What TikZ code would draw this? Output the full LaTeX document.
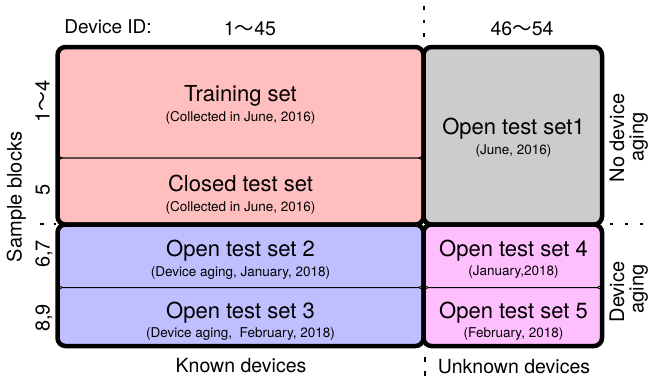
\documentclass[tikz,border=0pt]{standalone}
\usepackage{fontspec}
\setmainfont{TeX Gyre Heros}
\newfontfamily\cjkfont{Noto Sans CJK JP}
\newcommand{\wavesym}{{\cjkfont ～}}
\definecolor{pinkc}{RGB}{255,191,191}
\definecolor{bluec}{RGB}{191,191,255}
\definecolor{greyc}{RGB}{204,204,204}
\definecolor{magc}{RGB}{255,191,255}
\begin{document}
\begin{tikzpicture}[x=1pt,y=-1pt,
  cell/.style={draw=black, line width=1pt, rounded corners=5pt, inner sep=0pt, outer sep=0pt},
  group/.style={draw=black, line width=4.5pt, rounded corners=8pt},
  title/.style={font=\fontsize{22}{26}\selectfont, anchor=base, inner sep=0pt},
  subt/.style={font=\fontsize{13.5}{16}\selectfont, anchor=base, inner sep=0pt},
  lab/.style={font=\fontsize{19.5}{23}\selectfont, anchor=base, inner sep=0pt},
  rlab/.style={font=\fontsize{20}{23}\selectfont, anchor=base, inner sep=0pt, rotate=90},
  dotline/.style={line width=2.5pt, dash pattern=on 3.5pt off 10pt}]
\useasboundingbox (0,0) rectangle (652,381);

% cells
\node[cell, fill=pinkc, minimum width=366pt, minimum height=111pt] (train) at (240.5,102.5) {};
\node[cell, fill=pinkc, minimum width=366pt, minimum height=66.5pt] (closed) at (240.5,191.25) {};
\node[cell, fill=bluec, minimum width=366pt, minimum height=63pt] (op2) at (240.5,256) {};
\node[cell, fill=bluec, minimum width=366pt, minimum height=58.5pt] (op3) at (240.5,316.75) {};
\node[cell, fill=greyc, minimum width=178.5pt, minimum height=177.5pt] (op1) at (512.75,135.75) {};
\node[cell, fill=magc, minimum width=178.5pt, minimum height=63pt] (op4) at (512.75,256) {};
\node[cell, fill=magc, minimum width=178.5pt, minimum height=58.5pt] (op5) at (512.75,316.75) {};

% group borders
\draw[group] (train.north west) rectangle (closed.south east);
\draw[group] (op2.north west) rectangle (op3.south east);
\draw[group] (op1.north west) rectangle (op1.south east);
\draw[group] (op4.north west) rectangle (op5.south east);

% cell texts
\node[title] (t1) at (240.5,101) {Training set};
\node[subt] (s1) at (240.5,121.5) {(Collected in June, 2016)};
\node[title] (t2) at (240.5,191.5) {Closed test set};
\node[subt] (s2) at (240.5,211) {(Collected in June, 2016)};
\node[title] (t3) at (240.5,256) {Open test set 2};
\node[subt] (s3) at (240.5,276) {(Device aging, January, 2018)};
\node[title] (t4) at (240.5,318) {Open test set 3};
\node[subt] (s4) at (240.5,337.5) {(Device aging, \ February, 2018)};
\node[title] (t5) at (513.5,134.5) {Open test set1};
\node[subt] (s5) at (513.5,154) {(June, 2016)};
\node[title] (t6) at (513.5,256.5) {Open test set 4};
\node[subt] (s6) at (513.5,275.5) {(January,2018)};
\node[title] (t7) at (513.5,318) {Open test set 5};
\node[subt] (s7) at (513.5,337.5) {(February, 2018)};

% top labels
\node[lab, font=\fontsize{19}{23}\selectfont] (devid) at (108,33.5) {Device ID:};
\node[lab] (r1) at (250,35) {1\wavesym45};
\node[lab] (r2) at (522,35) {46\wavesym54};

% bottom labels
\node[lab] (known) at (241,372) {Known devices};
\node[lab] (unknown) at (514,373) {Unknown devices};

% left labels
\node[rlab] (sb) at (21.7,197) {Sample blocks};
\node[rlab] (b1) at (49.5,101.5) {1\wavesym4};
\node[rlab] (b2) at (49.5,190) {5};
\node[rlab] (b3) at (49.5,254) {6,7};
\node[rlab] (b4) at (49.5,318) {8,9};

% right labels
\node[rlab] (nd1) at (624,138) {No device};
\node[rlab] (nd2) at (643.5,137) {aging};
\node[rlab] (da1) at (624,292) {Device};
\node[rlab] (da2) at (643.5,289) {aging};

% dotted separators
\coordinate (vt1) at (424,6);
\coordinate (vt2) at (424,42);
\coordinate (vb1) at (425,357);
\coordinate (vb2) at (425,380);
\coordinate (hl1) at (40,224);
\coordinate (hl2) at (56,224);
\coordinate (hr1) at (610,224);
\coordinate (hr2) at (645,224);
\draw[dotline] (vt1) -- (vt2);
\draw[dotline, dash pattern=on 5pt off 9pt] (vb1) -- (vb2);
\draw[dotline] (hl1) -- (hl2);
\draw[dotline, dash pattern=on 3pt off 12pt] (hr1) -- (hr2);
\end{tikzpicture}
\end{document}
